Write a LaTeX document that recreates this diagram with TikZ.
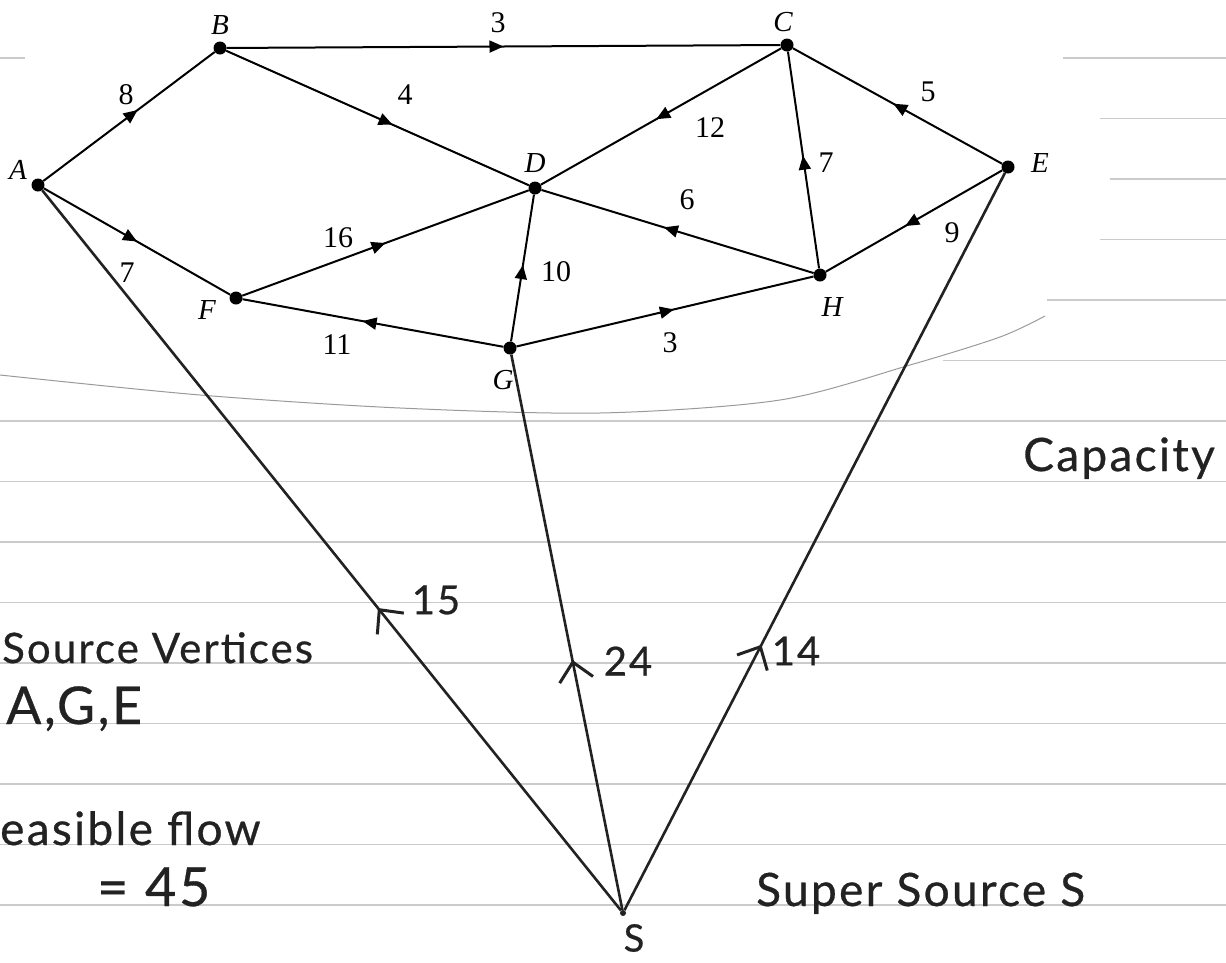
\documentclass[tikz,border=0pt]{standalone}
\usepackage{fontspec}
\setmainfont{Liberation Serif}
\newfontfamily\handfont[LetterSpace=5,FakeBold=0.6]{Lato}
\usetikzlibrary{arrows.meta,decorations.markings}

\definecolor{ink}{HTML}{222222}
\definecolor{rulegrey}{HTML}{CBCBCB}
\definecolor{arcgrey}{HTML}{9A9A9A}

\tikzset{
  vtx/.style={circle,fill=black,inner sep=0pt,minimum size=13pt},
  vlab/.style={font=\fontsize{29}{29}\selectfont\itshape,inner sep=0pt},
  wlab/.style={font=\fontsize{30}{30}\selectfont,inner sep=0pt},
  link/.style={line width=2pt},
  midarr/.style={decoration={markings,mark=at position #1 with {\arrow{Triangle[length=14pt,width=12pt]}}},postaction={decorate}},
  midarr/.default=0.55,
  hand/.style={font=\fontsize{46}{46}\selectfont\handfont,text=ink,inner sep=0pt},
  handnum/.style={font=\fontsize{40}{40}\selectfont\handfont,text=ink,inner sep=0pt},
  supedge/.style={line width=2.6pt,draw=ink},
  handarr/.style={decoration={markings,mark=at position #1 with {\arrow[line width=3pt,ink]{Straight Barb[length=18pt,width=34pt]}}},postaction={decorate}},
  ruled/.style={draw=rulegrey,line width=1.6pt}
}

\begin{document}
\begin{tikzpicture}[x=1pt,y=-1pt]
\useasboundingbox (0,0) rectangle (1226,962);
\clip (0,0) rectangle (1226,962);

%%%%% notebook lines
\foreach \k in {6,...,14} \draw[ruled] (0,{58+60.5*\k}) -- (1226,{58+60.5*\k});
\foreach \y/\xs in {58/1063,118.5/1100,179/1110,239.5/1100,300/1047,360.5/943} \draw[ruled] (\xs,\y) -- (1226,\y);
\draw[ruled] (0,58) -- (25,58);

% edge of the printed sheet
\draw[arcgrey,line width=1pt] plot[smooth] coordinates {(0,375) (200,395) (400,408) (600,413) (780,400) (910,365) (1000,337) (1045,316)};

%%%%% vertices
\node[vtx] (A) at (38,185) {}; \node[vtx] (B) at (220,48) {}; \node[vtx] (C) at (787,45) {}; \node[vtx] (D) at (535,188) {};
\node[vtx] (E) at (1008,167) {}; \node[vtx] (F) at (236,298) {}; \node[vtx] (G) at (510,348) {}; \node[vtx] (H) at (820,275) {};
\node[vtx,fill=ink,minimum size=6pt] (S) at (623,913) {};

\node[vlab] (lA) at (18,170) {A}; \node[vlab] (lB) at (220,25) {B}; \node[vlab] (lC) at (783,22) {C}; \node[vlab] (lD) at (535,163) {D};
\node[vlab] (lE) at (1040,163) {E}; \node[vlab] (lF) at (207,310) {F}; \node[vlab] (lG) at (503,380) {G}; \node[vlab] (lH) at (832,307) {H};

%%%%% capacities on the network
\draw[link,midarr] (A) -- (B); \draw[link,midarr=0.5] (B) -- (C); \draw[link,midarr] (B) -- (D);
\draw[link,midarr=0.52] (C) -- (D); \draw[link,midarr=0.52] (E) -- (C); \draw[link,midarr=0.52] (H) -- (C);
\draw[link,midarr=0.5] (A) -- (F); \draw[link,midarr=0.5] (F) -- (D); \draw[link,midarr=0.52] (G) -- (D);
\draw[link,midarr] (H) -- (D); \draw[link,midarr] (E) -- (H); \draw[link,midarr=0.54] (G) -- (F); \draw[link,midarr=0.53] (G) -- (H);

\node[wlab] (wAB) at (126,95) {8}; \node[wlab] (wBC) at (498,23) {3}; \node[wlab] (wBD) at (405,95) {4};
\node[wlab] (wCD) at (710,128) {12}; \node[wlab] (wEC) at (928,92) {5}; \node[wlab] (wHC) at (826,163) {7};
\node[wlab] (wAF) at (127,273) {7}; \node[wlab] (wFD) at (338,238) {16}; \node[wlab] (wGD) at (556,272) {10};
\node[wlab] (wHD) at (687,200) {6}; \node[wlab] (wEH) at (952,233) {9}; \node[wlab] (wGF) at (337,345) {11};
\node[wlab] (wGH) at (670,343) {3};

%%%%% super source, hand written
\draw[supedge,handarr=0.42] (S) -- (A); \draw[supedge,handarr=0.45] (S) -- (G); \draw[supedge,handarr=0.36] (S) -- (E);

\node[handnum] (hSA) at (436,600) {15};
\node[handnum] (hSG) at (628,661) {24};
\node[handnum] (hSE) at (796,651) {14};
\node[hand,font=\fontsize{38}{38}\selectfont\handfont] (lS) at (634,938) {S};

\node[hand,anchor=base east] (cap) at (1215,471) {Capacity};
\node[hand,font=\fontsize{42}{42}\selectfont\handfont,anchor=base west] (srcv) at (2,663) {Source Vertices};
\node[hand,font=\fontsize{52}{52}\selectfont\handfont,anchor=base west] (srcl) at (6,724) {A,G,E};
\node[hand,anchor=base west] (feas) at (0,845) {easible flow};
\node[hand,font=\fontsize{54}{54}\selectfont\handfont,anchor=base west] (val) at (97,906) {= 45};
\node[hand,anchor=base west] (sup) at (756,906) {Super Source S};
\end{tikzpicture}
\end{document}
